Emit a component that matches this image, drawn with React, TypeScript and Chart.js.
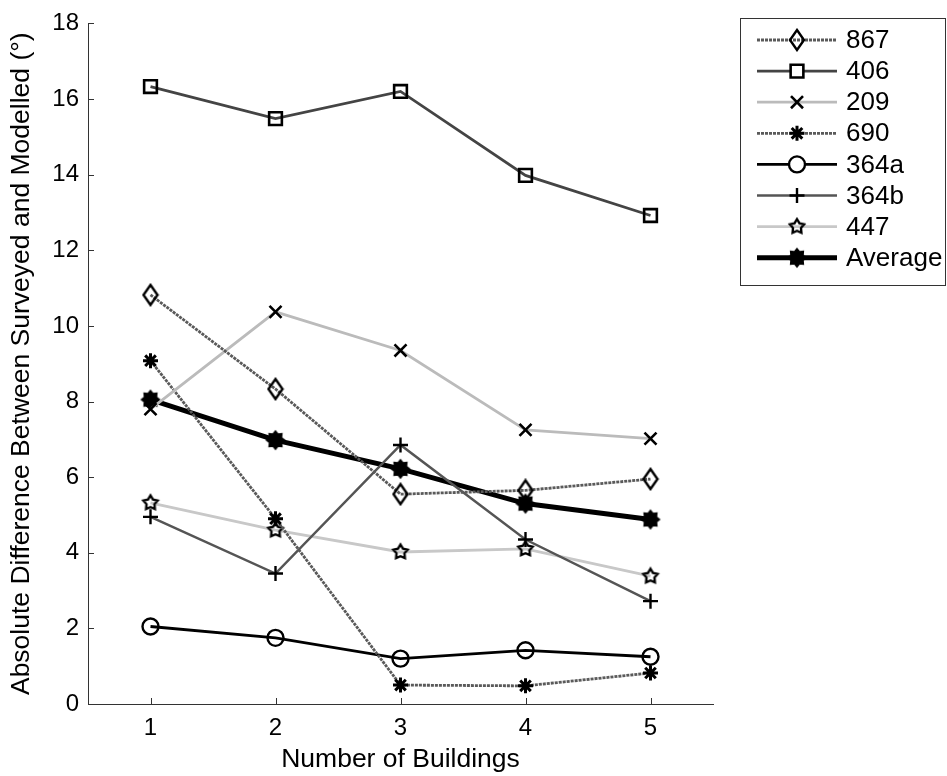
import React, { useEffect, useRef } from "react";
import { Chart, registerables } from "chart.js";

Chart.register(...registerables);

const buildings = [1, 2, 3, 4, 5];
const yTicks = [0, 2, 4, 6, 8, 10, 12, 14, 16, 18];
const s867 = [10.82, 8.33, 5.55, 5.65, 5.95];
const s406 = [16.33, 15.48, 16.2, 13.98, 12.92];
const s209 = [7.8, 10.37, 9.35, 7.25, 7.02];
const s690 = [9.08, 4.9, 0.5, 0.48, 0.82];
const s364a = [2.05, 1.75, 1.2, 1.42, 1.25];
const s364b = [4.95, 3.45, 6.85, 4.35, 2.72];
const s447 = [5.32, 4.6, 4.02, 4.1, 3.38];
const sAvg = [8.05, 6.98, 6.22, 5.3, 4.88];
const seriesNames = ["867", "406", "209", "690", "364a", "364b", "447", "Average"];

const FONT = "'Liberation Sans', Arial, Helvetica, sans-serif";

function makeStar(size: number, points: number, outerR: number, innerR: number, filled: boolean, lw: number) {
  const c = document.createElement("canvas");
  c.width = size;
  c.height = size;
  const ctx = c.getContext("2d")!;
  const cx = size / 2, cy = size / 2;
  ctx.beginPath();
  for (let i = 0; i < points * 2; i++) {
    const r = i % 2 === 0 ? outerR : innerR;
    const a = -Math.PI / 2 + (i * Math.PI) / points;
    const x = cx + r * Math.cos(a), y = cy + r * Math.sin(a);
    if (i === 0) ctx.moveTo(x, y); else ctx.lineTo(x, y);
  }
  ctx.closePath();
  ctx.lineWidth = lw;
  ctx.strokeStyle = "#000";
  ctx.lineJoin = "miter";
  if (filled) { ctx.fillStyle = "#000"; ctx.fill(); }
  ctx.stroke();
  return c;
}

function makeDiamond(w: number, h: number, lw: number) {
  const c = document.createElement("canvas");
  c.width = w + 4;
  c.height = h + 4;
  const ctx = c.getContext("2d")!;
  const cx = c.width / 2, cy = c.height / 2;
  ctx.beginPath();
  ctx.moveTo(cx, cy - h / 2);
  ctx.lineTo(cx + w / 2, cy);
  ctx.lineTo(cx, cy + h / 2);
  ctx.lineTo(cx - w / 2, cy);
  ctx.closePath();
  ctx.lineWidth = lw;
  ctx.strokeStyle = "#000";
  ctx.stroke();
  return c;
}

function drawMarker(ctx: CanvasRenderingContext2D, style: any, r: number, bw: number, x: number, y: number) {
  ctx.save();
  ctx.strokeStyle = "#000";
  ctx.lineWidth = bw;
  if (typeof style !== "string") {
    ctx.drawImage(style, x - style.width / 2, y - style.height / 2);
    ctx.restore();
    return;
  }
  const s = Math.SQRT1_2 * r;
  ctx.beginPath();
  if (style === "rect") {
    ctx.rect(x - s, y - s, 2 * s, 2 * s);
  } else if (style === "circle") {
    ctx.arc(x, y, r, 0, Math.PI * 2);
  } else if (style === "crossRot") {
    ctx.moveTo(x - s, y - s); ctx.lineTo(x + s, y + s);
    ctx.moveTo(x - s, y + s); ctx.lineTo(x + s, y - s);
  } else if (style === "cross") {
    ctx.moveTo(x - r, y); ctx.lineTo(x + r, y);
    ctx.moveTo(x, y - r); ctx.lineTo(x, y + r);
  } else if (style === "star") {
    ctx.moveTo(x - r, y); ctx.lineTo(x + r, y);
    ctx.moveTo(x, y - r); ctx.lineTo(x, y + r);
    ctx.moveTo(x - s, y - s); ctx.lineTo(x + s, y + s);
    ctx.moveTo(x - s, y + s); ctx.lineTo(x + s, y - s);
  }
  if (style === "rect" || style === "circle") {
    ctx.fillStyle = "#fff";
    ctx.fill();
  }
  ctx.stroke();
  ctx.restore();
}

export default function App() {
  const ref = useRef<HTMLCanvasElement>(null);
  useEffect(() => {
    const diamond = makeDiamond(14, 20, 2.4);
    const starOpen = makeStar(20, 5, 7.5, 4.2, false, 2.4);
    const starFilled = makeStar(22, 8, 9, 6.5, true, 1.5);
    const mk = (vals: number[]) => vals.map((v, i) => ({ x: buildings[i], y: v }));
    const defs: any[] = [
      { data: s867, color: "#5a5a5a", width: 2.8, dash: [3, 1], style: diamond, radius: 10, bw: 2.4 },
      { data: s406, color: "#444", width: 2.8, dash: [], style: "rect", radius: 9, bw: 2.6 },
      { data: s209, color: "#bbb", width: 2.8, dash: [], style: "crossRot", radius: 8.5, bw: 2.6 },
      { data: s690, color: "#5a5a5a", width: 2.8, dash: [3, 1], style: "star", radius: 7.5, bw: 3 },
      { data: s364a, color: "#000", width: 2.8, dash: [], style: "circle", radius: 8, bw: 2.4 },
      { data: s364b, color: "#555", width: 2.5, dash: [], style: "cross", radius: 7.5, bw: 2.4 },
      { data: s447, color: "#c8c8c8", width: 2.8, dash: [], style: starOpen, radius: 8, bw: 2.4 },
      { data: sAvg, color: "#000", width: 5, dash: [], style: starFilled, radius: 9, bw: 2 },
    ];
    const datasets = defs.map((d, i) => ({
      label: seriesNames[i],
      data: mk(d.data),
      borderColor: d.color,
      borderWidth: d.width,
      borderDash: d.dash,
      pointStyle: d.style,
      pointRadius: d.radius,
      pointBorderColor: "#000",
      pointBackgroundColor: "rgba(0,0,0,0)",
      pointBorderWidth: d.bw,
      fill: false,
      tension: 0,
    }));

    const tickPlugin = {
      id: "inTicks",
      afterDraw(chart: any) {
        const ctx = chart.ctx;
        const xs = chart.scales.x, ys = chart.scales.y;
        const area = chart.chartArea;
        ctx.save();
        ctx.strokeStyle = "#333";
        ctx.lineWidth = 1;
        ys.ticks.forEach((t: any) => {
          const y = Math.round(ys.getPixelForValue(t.value)) + 0.5;
          ctx.beginPath();
          ctx.moveTo(area.left, y);
          ctx.lineTo(area.left + 6, y);
          ctx.stroke();
        });
        xs.ticks.forEach((t: any) => {
          const x = Math.round(xs.getPixelForValue(t.value)) + 0.5;
          ctx.beginPath();
          ctx.moveTo(x, area.bottom);
          ctx.lineTo(x, area.bottom - 6);
          ctx.stroke();
        });
        // legend
        const bx = 740.5, by = 18.5, bw = 205, bh = 267;
        ctx.strokeStyle = "#333";
        ctx.lineWidth = 1;
        ctx.fillStyle = "#fff";
        ctx.fillRect(bx, by, bw, bh);
        ctx.strokeRect(bx, by, bw, bh);
        chart.data.datasets.forEach((ds: any, i: number) => {
          const d = defs[i];
          const yy = 40 + i * 31.1;
          ctx.save();
          ctx.strokeStyle = ds.borderColor;
          ctx.lineWidth = ds.borderWidth;
          ctx.setLineDash(ds.borderDash || []);
          ctx.beginPath();
          ctx.moveTo(757, yy);
          ctx.lineTo(837, yy);
          ctx.stroke();
          ctx.restore();
          drawMarker(ctx, d.style, d.radius, d.bw, 797, yy);
          ctx.fillStyle = "#000";
          ctx.font = `26px ${FONT}`;
          ctx.textBaseline = "middle";
          ctx.textAlign = "left";
          ctx.fillText(ds.label, 846, yy + 1);
        });
        ctx.restore();
      },
    };

    const chart = new Chart(ref.current!, {
      type: "line",
      data: { datasets },
      plugins: [tickPlugin],
      options: {
        animation: false,
        responsive: false,
        maintainAspectRatio: false,
        layout: { padding: { left: 0, top: 18, right: 234, bottom: 0 } },
        plugins: { legend: { display: false }, tooltip: { enabled: false } },
        scales: {
          x: {
            type: "linear",
            min: 0.5,
            max: 5.5,
            afterBuildTicks: (s: any) => { s.ticks = buildings.map((v) => ({ value: v })); },
            afterFit: (s: any) => { s.height = 72; },
            grid: { display: false, drawTicks: false },
            border: { display: true, color: "#333", width: 1 },
            ticks: { color: "#000", font: { family: FONT, size: 24 }, padding: 10, maxRotation: 0 },
            title: { display: true, text: "Number of Buildings", color: "#000", font: { family: FONT, size: 26.5 }, padding: { top: 4, bottom: 0 } },
          },
          y: {
            type: "linear",
            min: 0,
            max: 18,
            afterBuildTicks: (s: any) => { s.ticks = yTicks.map((v) => ({ value: v })); },
            afterFit: (s: any) => { s.width = 88; },
            grid: { display: false, drawTicks: false },
            border: { display: true, color: "#333", width: 1 },
            ticks: { color: "#000", font: { family: FONT, size: 24 }, padding: 9 },
            title: { display: true, text: "Absolute Difference Between Surveyed and Modelled (°)", color: "#000", font: { family: FONT, size: 26.5 }, padding: { top: 6, bottom: 0 } },
          },
        },
      } as any,
    });
    return () => chart.destroy();
  }, []);
  return (
    <div style={{ position: "absolute", left: 0, top: 0, width: 947, height: 776, background: "#fff" }}>
      <canvas ref={ref} width={947} height={776} style={{ width: 947, height: 776 }} />
    </div>
  );
}
